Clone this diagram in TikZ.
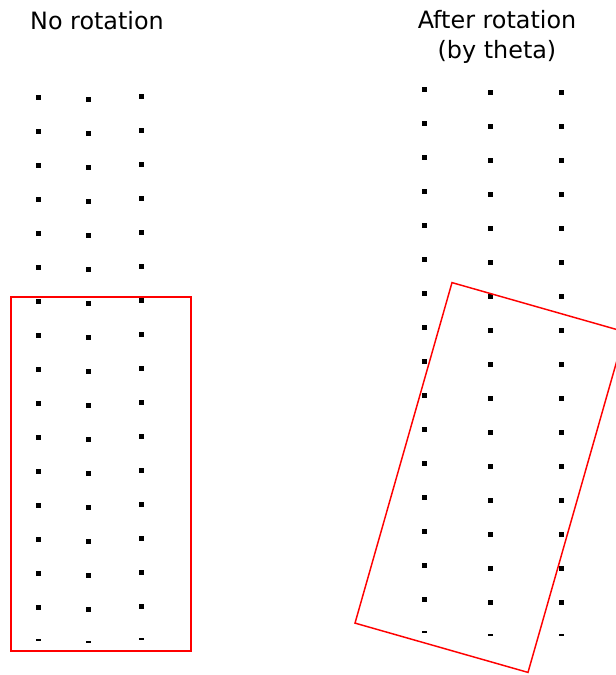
\documentclass[tikz,border=0pt]{standalone}
\usepackage{fontspec}
\setmainfont{DejaVu Sans}
\begin{document}
\begin{tikzpicture}[x=0.75pt, y=-0.75pt, line width=1.1pt,
  title/.style={font=\fontsize{17.9}{22.1}\selectfont, inner sep=0pt, anchor=base}]
  \useasboundingbox (0,0) rectangle (616,675);
  \clip (0,0) rectangle (616,675);
  \node[title] (titleleft) at (97,29.3) {No rotation};
  \node[title, align=center] (titleright) at (497,58.3) {After rotation\\(by theta)};
  % points, no rotation
  \foreach \x/\y in {38.3/97, 88.8/99, 141.6/96} {
    \foreach \k in {0,...,15}
      \fill (\x-2.5,\y+34*\k-2.5) rectangle ++(5,5);
    \fill (\x-2.5,\y+544-2.5) rectangle ++(5,2.5);
  }
  \draw[red] (11,297) rectangle (191,651);
  % points, after rotation
  \foreach \x/\y in {424.2/89.3, 490.4/92, 561.5/92} {
    \foreach \k in {0,...,15}
      \fill (\x-2.5,\y+34*\k-2.5) rectangle ++(5,5);
    \fill (\x-2.5,\y+544-2.5) rectangle ++(5,2.5);
  }
  \draw[red, line join=miter] (452,282.6) -- (625.1,331.9) -- (528,672.4) -- (355,623.1) -- cycle;
\end{tikzpicture}
\end{document}
